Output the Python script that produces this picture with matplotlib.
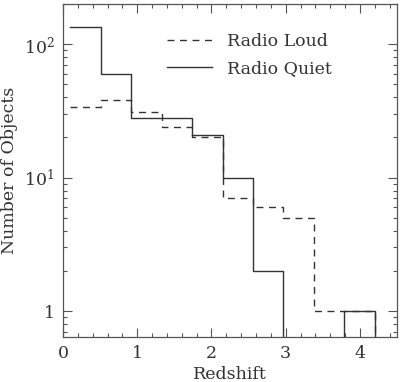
import matplotlib
matplotlib.use("Agg")
import matplotlib.pyplot as plt
from matplotlib.ticker import FixedLocator, LogLocator, NullFormatter, MultipleLocator

# bin edges in redshift and counts per bin
edges = [0.10, 0.51, 0.92, 1.33, 1.74, 2.15, 2.56, 2.97, 3.38, 3.79, 4.20]
radio_loud = [34, 38, 31, 24, 20, 7, 6, 5, 1, 1]
radio_quiet = [135, 60, 28, 28, 21, 10, 2, 0, 0, 1]

plt.rcParams["font.family"] = "DejaVu Serif"
plt.rcParams["mathtext.fontset"] = "dejavuserif"

INK = "#333333"
FS = 12.5

fig = plt.figure(figsize=(4.0, 3.82), dpi=100)
ax = fig.add_axes([0.1575, 0.118, 0.835, 0.8715])

ax.step(edges, radio_loud + [0], where="post", color=INK, lw=1.0,
        ls=(0, (5, 4)), label="Radio Loud")
ax.step(edges, radio_quiet + [0], where="post", color=INK, lw=1.0,
        label="Radio Quiet")

ax.set_yscale("log", nonpositive="clip")
ax.set_xlim(0, 4.5)
ax.set_ylim(0.64, 200)

ax.xaxis.set_major_locator(FixedLocator([0, 1, 2, 3, 4]))
ax.xaxis.set_minor_locator(MultipleLocator(0.2))
ax.yaxis.set_major_locator(FixedLocator([1, 10, 100]))
ax.yaxis.set_minor_locator(LogLocator(base=10, subs=range(2, 10)))
ax.yaxis.set_minor_formatter(NullFormatter())
ax.set_yticklabels(["1", "$10^1$", "$10^2$"])

ax.tick_params(which="both", direction="in", top=True, right=True,
               color="#555555", labelcolor=INK, labelsize=FS, width=0.8)
ax.tick_params(which="major", length=6.5, pad=6)
ax.tick_params(which="minor", length=3.2)
for sp in ax.spines.values():
    sp.set_color("#555555")
    sp.set_linewidth(0.9)

ax.set_xlabel("Redshift", fontsize=FS, color=INK, labelpad=3)
ax.set_ylabel("Number of Objects", fontsize=FS, color=INK, labelpad=4)

ax.legend(loc="upper left", bbox_to_anchor=(0.31, 0.912), frameon=False,
          fontsize=FS, handlelength=2.6, handletextpad=0.86,
          labelspacing=0.55, borderpad=0, borderaxespad=0,
          labelcolor=INK)

fig.savefig("out.png", dpi=100)
